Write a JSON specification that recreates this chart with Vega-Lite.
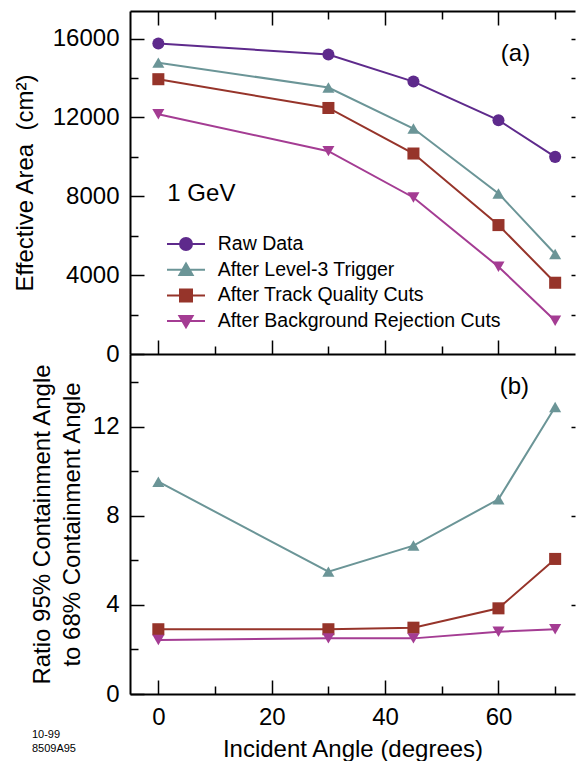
{
  "$schema": "https://vega.github.io/schema/vega-lite/v6.json",
  "autosize": {"type": "pad"},
  "padding": {"left": 13, "top": 10, "right": 0, "bottom": 0},
  "background": "white",
  "spacing": 0,
  "bounds": "flush",
  "datasets": {
    "area": [
      {"angle": 0, "series": "Raw Data", "area": 15750},
      {"angle": 30, "series": "Raw Data", "area": 15190},
      {"angle": 45, "series": "Raw Data", "area": 13820},
      {"angle": 60, "series": "Raw Data", "area": 11860},
      {"angle": 70, "series": "Raw Data", "area": 10000},
      {"angle": 0, "series": "After Level-3 Trigger", "area": 14780},
      {"angle": 30, "series": "After Level-3 Trigger", "area": 13520},
      {"angle": 45, "series": "After Level-3 Trigger", "area": 11440},
      {"angle": 60, "series": "After Level-3 Trigger", "area": 8145},
      {"angle": 70, "series": "After Level-3 Trigger", "area": 5070},
      {"angle": 0, "series": "After Track Quality Cuts", "area": 13940},
      {"angle": 30, "series": "After Track Quality Cuts", "area": 12480},
      {"angle": 45, "series": "After Track Quality Cuts", "area": 10170},
      {"angle": 60, "series": "After Track Quality Cuts", "area": 6540},
      {"angle": 70, "series": "After Track Quality Cuts", "area": 3615},
      {"angle": 0, "series": "After Background Rejection Cuts", "area": 12160},
      {"angle": 30, "series": "After Background Rejection Cuts", "area": 10290},
      {"angle": 45, "series": "After Background Rejection Cuts", "area": 7940},
      {"angle": 60, "series": "After Background Rejection Cuts", "area": 4425},
      {"angle": 70, "series": "After Background Rejection Cuts", "area": 1690}
    ],
    "ratio": [
      {"angle": 0, "series": "After Level-3 Trigger", "ratio": 9.54},
      {"angle": 30, "series": "After Level-3 Trigger", "ratio": 5.5},
      {"angle": 45, "series": "After Level-3 Trigger", "ratio": 6.67},
      {"angle": 60, "series": "After Level-3 Trigger", "ratio": 8.75},
      {"angle": 70, "series": "After Level-3 Trigger", "ratio": 12.9},
      {"angle": 0, "series": "After Track Quality Cuts", "ratio": 2.91},
      {"angle": 30, "series": "After Track Quality Cuts", "ratio": 2.91},
      {"angle": 45, "series": "After Track Quality Cuts", "ratio": 2.98},
      {"angle": 60, "series": "After Track Quality Cuts", "ratio": 3.85},
      {"angle": 70, "series": "After Track Quality Cuts", "ratio": 6.07},
      {"angle": 0, "series": "After Background Rejection Cuts", "ratio": 2.43},
      {"angle": 30, "series": "After Background Rejection Cuts", "ratio": 2.5},
      {"angle": 45, "series": "After Background Rejection Cuts", "ratio": 2.5},
      {"angle": 60, "series": "After Background Rejection Cuts", "ratio": 2.8},
      {"angle": 70, "series": "After Background Rejection Cuts", "ratio": 2.91}
    ]
  },
  "vconcat": [
    {
      "width": 445,
      "height": 343,
      "data": {"name": "area"},
      "resolve": {"scale": {"shape": "independent", "fill": "independent", "stroke": "independent"}, "axis": {"x": "independent", "y": "independent"}},
      "layer": [
        {
          "mark": {"type": "line", "strokeWidth": 2},
          "encoding": {
            "x": {"field": "angle", "type": "quantitative", "scale": {"domain": [-5, 73.5], "nice": false, "zero": false},
                  "axis": {"orient": "bottom", "labels": false, "domain": false, "title": null, "values": [0, 10, 20, 30, 40, 50, 60, 70],
                           "tickSize": {"condition": {"test": "datum.value % 20 === 0", "value": -14}, "value": -8}}},
            "y": {"field": "area", "type": "quantitative", "scale": {"domain": [0, 17400], "nice": false, "zero": false},
                  "axis": {"orient": "left", "ticks": false, "values": [0, 4000, 8000, 12000, 16000], "format": "d", "labelPadding": 11,
                           "title": "Effective Area\u00a0 (cm²)", "titlePadding": 15}},
            "color": {"field": "series", "type": "nominal",
                      "scale": {"domain": ["Raw Data", "After Level-3 Trigger", "After Track Quality Cuts", "After Background Rejection Cuts"],
                                "range": ["#5e2a8c", "#6b9597", "#96342a", "#a43c93"]},
                      "legend": null}
          }
        },
        {
          "mark": {"type": "point", "opacity": 0},
          "encoding": {
            "x": {"field": "angle", "type": "quantitative",
                  "axis": {"orient": "top", "labels": false, "domain": true, "title": null, "values": [0, 10, 20, 30, 40, 50, 60, 70],
                           "tickSize": {"condition": {"test": "datum.value % 20 === 0", "value": -14}, "value": -8}}},
            "y": {"field": "area", "type": "quantitative",
                  "axis": {"orient": "left", "labels": false, "domain": false, "title": null,
                           "values": [0, 2000, 4000, 6000, 8000, 10000, 12000, 14000, 16000],
                           "tickSize": {"condition": {"test": "datum.value % 4000 === 0", "value": -14}, "value": -8}}}
          }
        },
        {
          "mark": {"type": "point", "opacity": 0},
          "encoding": {
            "x": {"field": "angle", "type": "quantitative", "axis": null},
            "y": {"field": "area", "type": "quantitative",
                  "axis": {"orient": "right", "labels": false, "domain": false, "title": null, "tickSize": -4,
                           "values": [2000, 4000, 6000, 8000, 10000, 12000, 14000, 16000]}}
          }
        },
        {
          "mark": {"type": "point", "filled": true, "opacity": 1, "size": 145},
          "encoding": {
            "x": {"field": "angle", "type": "quantitative", "axis": null},
            "y": {"field": "area", "type": "quantitative", "axis": null},
            "color": {"field": "series", "type": "nominal", "legend": null},
            "shape": {"field": "series", "type": "nominal",
                      "scale": {"domain": ["Raw Data", "After Level-3 Trigger", "After Track Quality Cuts", "After Background Rejection Cuts"],
                                "range": ["circle", "triangle-up", "square", "triangle-down"]},
                      "legend": null}
          }
        },
        {
          "mark": {"type": "point", "opacity": 0, "strokeWidth": 2},
          "encoding": {
            "x": {"field": "angle", "type": "quantitative", "axis": null},
            "y": {"field": "area", "type": "quantitative", "axis": null},
            "fill": {"field": "series", "type": "nominal",
                     "scale": {"domain": ["Raw Data", "After Level-3 Trigger", "After Track Quality Cuts", "After Background Rejection Cuts"],
                               "range": ["#5e2a8c", "#6b9597", "#96342a", "#a43c93"]},
                     "legend": {"orient": "none", "legendX": 45, "legendY": 222, "title": null, "padding": 0,
                                "symbolSize": 400, "symbolOpacity": 1, "symbolStrokeWidth": 2,
                                "labelFont": "Liberation Sans", "labelFontSize": 19.5, "labelColor": "black", "labelOffset": 20.7,
                                "rowPadding": 4.7, "labelLimit": 400}},
            "stroke": {"field": "series", "type": "nominal",
                       "scale": {"domain": ["Raw Data", "After Level-3 Trigger", "After Track Quality Cuts", "After Background Rejection Cuts"],
                                 "range": ["#5e2a8c", "#6b9597", "#96342a", "#a43c93"]},
                       "legend": {"orient": "none", "legendX": 45, "legendY": 222, "title": null, "padding": 0,
                                  "symbolSize": 400, "symbolOpacity": 1, "symbolStrokeWidth": 2,
                                  "labelFont": "Liberation Sans", "labelFontSize": 19.5, "labelColor": "black", "labelOffset": 20.7,
                                  "rowPadding": 4.7, "labelLimit": 400}},
            "shape": {"field": "series", "type": "nominal",
                      "scale": {"domain": ["Raw Data", "After Level-3 Trigger", "After Track Quality Cuts", "After Background Rejection Cuts"],
                                "range": [
                                  "M-1.9,0H1.9M0.6,0A0.6,0.6,0,1,1,-0.6,0A0.6,0.6,0,1,1,0.6,0Z",
                                  "M-1.9,0H1.9M0,-0.62L0.66,0.52L-0.66,0.52Z",
                                  "M-1.9,0H1.9M-0.6,-0.6H0.6V0.6H-0.6Z",
                                  "M-1.9,0H1.9M0,0.62L0.66,-0.52L-0.66,-0.52Z"
                                ]},
                      "legend": {"orient": "none", "legendX": 45, "legendY": 222, "title": null, "padding": 0,
                                 "symbolSize": 400, "symbolOpacity": 1, "symbolStrokeWidth": 2,
                                 "labelFont": "Liberation Sans", "labelFontSize": 19.5, "labelColor": "black", "labelOffset": 20.7,
                                 "rowPadding": 4.7, "labelLimit": 400}}
          }
        },
        {
          "data": {"values": [{}]},
          "mark": {"type": "text", "font": "Liberation Sans", "fontSize": 24, "align": "center", "baseline": "middle", "color": "black"},
          "encoding": {
            "x": {"datum": 63, "type": "quantitative", "axis": null},
            "y": {"datum": 15230, "type": "quantitative", "axis": null},
            "text": {"value": "(a)"}
          }
        },
        {
          "data": {"values": [{}]},
          "mark": {"type": "text", "font": "Liberation Sans", "fontSize": 24, "align": "left", "baseline": "middle", "color": "black"},
          "encoding": {
            "x": {"datum": 1.59, "type": "quantitative", "axis": null},
            "y": {"datum": 8110, "type": "quantitative", "axis": null},
            "text": {"value": "1 GeV"}
          }
        }
      ]
    },
    {
      "width": 445,
      "height": 340,
      "data": {"name": "ratio"},
      "resolve": {"axis": {"x": "independent", "y": "independent"}},
      "layer": [
        {
          "mark": {"type": "line", "strokeWidth": 2},
          "encoding": {
            "x": {"field": "angle", "type": "quantitative", "scale": {"domain": [-5, 73.5], "nice": false, "zero": false},
                  "axis": {"orient": "bottom", "ticks": false, "values": [0, 20, 40, 60], "labelPadding": 11,
                           "title": "Incident Angle (degrees)", "titlePadding": 8}},
            "y": {"field": "ratio", "type": "quantitative", "scale": {"domain": [0, 15.28], "nice": false, "zero": false},
                  "axis": {"orient": "left", "ticks": false, "values": [0, 4, 8, 12], "labelPadding": 11,
                           "title": ["Ratio 95% Containment Angle", "to 68% Containment Angle"], "titlePadding": 8, "titleLineHeight": 30}},
            "color": {"field": "series", "type": "nominal", "legend": null}
          }
        },
        {
          "mark": {"type": "point", "opacity": 0},
          "encoding": {
            "x": {"field": "angle", "type": "quantitative",
                  "axis": {"orient": "bottom", "labels": false, "domain": false, "title": null, "values": [0, 10, 20, 30, 40, 50, 60, 70],
                           "tickSize": {"condition": {"test": "datum.value % 20 === 0", "value": -14}, "value": -8}}},
            "y": {"field": "ratio", "type": "quantitative",
                  "axis": {"orient": "left", "labels": false, "domain": false, "title": null,
                           "values": [0, 2, 4, 6, 8, 10, 12, 14],
                           "tickSize": {"condition": {"test": "datum.value % 4 === 0", "value": -14}, "value": -8}}}
          }
        },
        {
          "mark": {"type": "point", "opacity": 0},
          "encoding": {
            "x": {"field": "angle", "type": "quantitative",
                  "axis": {"orient": "top", "labels": false, "ticks": false, "domain": true, "title": null}},
            "y": {"field": "ratio", "type": "quantitative",
                  "axis": {"orient": "right", "labels": false, "domain": false, "title": null, "tickSize": -4, "values": [4, 8, 12]}}
          }
        },
        {
          "mark": {"type": "point", "filled": true, "opacity": 1, "size": 145},
          "encoding": {
            "x": {"field": "angle", "type": "quantitative", "axis": null},
            "y": {"field": "ratio", "type": "quantitative", "axis": null},
            "color": {"field": "series", "type": "nominal", "legend": null},
            "shape": {"field": "series", "type": "nominal",
                      "scale": {"domain": ["Raw Data", "After Level-3 Trigger", "After Track Quality Cuts", "After Background Rejection Cuts"],
                                "range": ["circle", "triangle-up", "square", "triangle-down"]},
                      "legend": null}
          }
        },
        {
          "data": {"values": [{}]},
          "mark": {"type": "text", "font": "Liberation Sans", "fontSize": 24, "align": "center", "baseline": "middle", "color": "black"},
          "encoding": {
            "x": {"datum": 62.8, "type": "quantitative", "axis": null},
            "y": {"datum": 13.8, "type": "quantitative", "axis": null},
            "text": {"value": "(b)"}
          }
        },
        {
          "data": {"values": [{}]},
          "mark": {"type": "text", "font": "Liberation Sans", "fontSize": 11, "align": "left", "baseline": "middle", "lineHeight": 14, "color": "black"},
          "encoding": {
            "x": {"datum": -22.3, "type": "quantitative", "axis": null},
            "y": {"datum": -1.84, "type": "quantitative", "axis": null},
            "text": {"value": ["10-99", "8509A95"]}
          }
        }
      ]
    }
  ],
  "config": {
    "view": {"stroke": null},
    "font": "Liberation Sans",
    "axis": {
      "labelFont": "Liberation Sans", "titleFont": "Liberation Sans",
      "labelFontSize": 24, "titleFontSize": 24, "titleFontWeight": "normal",
      "labelColor": "black", "titleColor": "black",
      "domainColor": "black", "domainWidth": 2, "tickColor": "black", "tickWidth": 1.5,
      "grid": false
    }
  }
}
